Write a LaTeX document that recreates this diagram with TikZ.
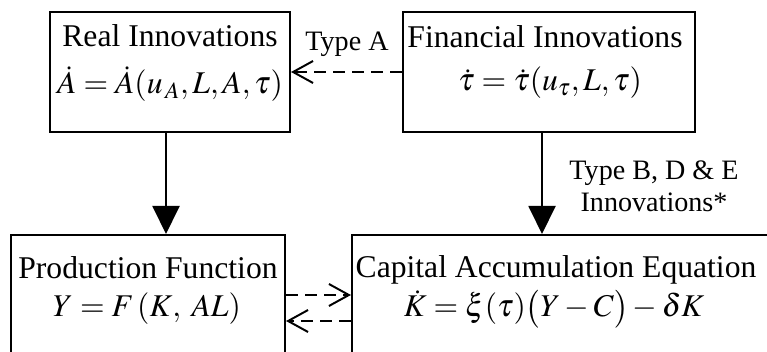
\documentclass[tikz,border=0pt]{standalone}
\usepackage{amsmath}
\usepackage{mathptmx}
\usepackage{fontspec}
\setmainfont{Liberation Serif}
\usetikzlibrary{arrows.meta}

\begin{document}
\begin{tikzpicture}[x=0.025cm, y=-0.025cm,
    blk/.style={draw, line width=1.4pt, inner sep=0pt, minimum height=3cm},
    ttl/.style={inner sep=0pt, anchor=base, font=\fontsize{22.5}{27}\selectfont},
    lbl/.style={inner sep=0pt, font=\fontsize{20}{22.8}\selectfont},
    solidArr/.style={line width=1.4pt, -{Triangle[length=0.7cm, width=0.675cm]}},
    dashArr/.style={line width=1.4pt, dash pattern=on 0.3cm off 0.175cm,
        -{Straight Barb[length=0.5cm, width=0.55cm, line width=1.4pt]}}]
    \useasboundingbox (0,0) rectangle (767,352);
    % the four blocks
    \node[blk, minimum width=6cm] (real) at (170,72) {};
    \node[blk, minimum width=7.3cm] (fin) at (549,72) {};
    \node[blk, minimum width=6.85cm, minimum height=3.75cm] (prod) at (148,310) {};
    \node[blk, minimum width=11cm, minimum height=3.75cm] (cap) at (572,310) {};
    % titles and equations
    \node[ttl] (realT) at (170,47) {Real Innovations};
    \node[ttl] (realE) at (170,94) {$\dot{A} = \dot{A}(u_{\,A}, L, A, \tau)$};
    \node[ttl] (finT) at (545,48) {Financial Innovations};
    \node[ttl] (finE) at (550,91) {$\dot{\tau} = \dot{\tau}(u_{\tau}, L, \tau)$};
    \node[ttl] (prodT) at (148,279) {Production Function};
    \node[ttl] (prodE) at (147,317) {$Y = F\,(K,\; AL)$};
    \node[ttl] (capT) at (556,278) {Capital Accumulation Equation};
    \node[ttl] (capE) at (554,317) {$\dot{K} = \xi(\tau)\bigl(Y - C\bigr) - \delta K$};
    % innovation channels
    \draw[dashArr] (fin.west) -- (real.east);
    \node[lbl, anchor=base] (typeA) at (347,51) {Type A};
    \draw[solidArr] ([xshift=-0.1cm]real.south) -- ([xshift=-0.1cm]real.south |- prod.north);
    \draw[solidArr] ([xshift=-0.175cm]fin.south) -- ([xshift=-0.175cm]fin.south |- cap.north);
    \node[lbl, align=center] (typeBDE) at (654,186) {Type B, D \& E\\Innovations*};
    % feedback between output and capital
    \draw[dashArr] ([yshift=0.375cm]prod.east) -- ([yshift=0.375cm]cap.west);
    \draw[dashArr] ([yshift=-0.275cm]cap.west) -- ([yshift=-0.275cm]prod.east);
\end{tikzpicture}
\end{document}
